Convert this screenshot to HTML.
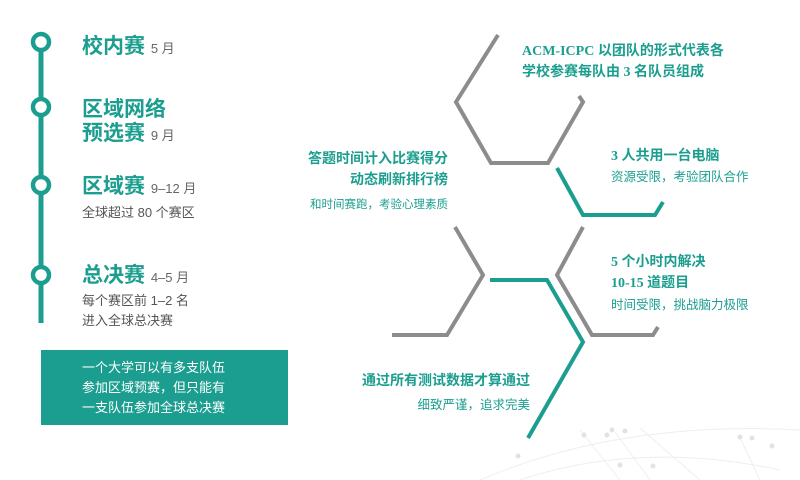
<!DOCTYPE html>
<html><head><meta charset="utf-8">
<style>
html,body{margin:0;padding:0;background:#fff;}
#wrap{position:relative;width:800px;height:480px;overflow:hidden;font-family:"Liberation Sans","Noto Sans CJK SC",sans-serif;}
.t{position:absolute;white-space:nowrap;}
.h{color:#1b9e8f;font-weight:bold;font-size:21px;line-height:24px;}
.m{color:#666;font-size:13px;font-weight:normal;}
.g{color:#555;font-size:13px;line-height:20px;}
.tb{color:#1b9e8f;font-weight:bold;font-size:14px;line-height:21px;font-family:"Liberation Serif","Noto Sans CJK SC",serif;}
.tn{color:#1b9e8f;font-size:12.5px;line-height:18px;}
.r{text-align:right;}
</style></head>
<body>
<div id="wrap">
<svg width="800" height="480" style="position:absolute;left:0;top:0">
  <g stroke="#eee" stroke-width="1" fill="none">
    <path d="M480 480 Q620 420 800 430"/>
    <path d="M520 480 Q640 440 780 470"/>
    <path d="M580 430 L620 480 M615 432 L650 480 M640 428 L700 480 M740 438 L760 480"/>
  </g>
  <g fill="#e2e2e2">
    <circle cx="584" cy="435" r="2.5"/><circle cx="607" cy="435" r="2.5"/><circle cx="612" cy="430" r="2.5"/>
    <circle cx="625" cy="431" r="2.5"/><circle cx="740" cy="437" r="2.5"/><circle cx="752" cy="438" r="2.5"/>
    <circle cx="772" cy="446" r="2.5"/><circle cx="518" cy="456" r="2.5"/><circle cx="620" cy="465" r="2.5"/>
    <circle cx="653" cy="466" r="2.5"/>
  </g>
  <g>
    <line x1="41" y1="33" x2="41" y2="323" stroke="#1b9e8f" stroke-width="5"/>
    <circle cx="41" cy="42" r="8" fill="#fff" stroke="#1b9e8f" stroke-width="4.5"/>
    <circle cx="41" cy="107" r="8" fill="#fff" stroke="#1b9e8f" stroke-width="4.5"/>
    <circle cx="41" cy="185" r="8" fill="#fff" stroke="#1b9e8f" stroke-width="4.5"/>
    <circle cx="41" cy="275" r="8" fill="#fff" stroke="#1b9e8f" stroke-width="4.5"/>
  </g>
  <rect x="41" y="350" width="247" height="75" fill="#1b9e8f"/>
  <g fill="none" stroke-width="4" stroke-linejoin="miter" stroke-linecap="butt">
    <polyline stroke="#8c8c8c" points="498,35 456,102 491,163 548,163 583,102 579,96"/>
    <polyline stroke="#1b9e8f" points="557,168 583,215 655,215 663,202"/>
    <polyline stroke="#8c8c8c" points="455,227 483,275 447,335 392,335"/>
    <polyline stroke="#8c8c8c" points="583,227 557,275 592,335 653,335 658,327"/>
    <polyline stroke="#1b9e8f" points="490,280 547,280 583,342 528,438"/>
  </g>
</svg>

<div class="t h" style="left:82px;top:35px">校内赛 <span class="m">5 月</span></div>
<div class="t h" style="left:82px;top:98px">区域网络<br>预选赛 <span class="m">9 月</span></div>
<div class="t h" style="left:82px;top:175px">区域赛 <span class="m">9–12 月</span></div>
<div class="t g" style="left:82px;top:203px">全球超过 80 个赛区</div>
<div class="t h" style="left:82px;top:264px">总决赛 <span class="m">4–5 月</span></div>
<div class="t g" style="left:82px;top:291px">每个赛区前 1–2 名<br>进入全球总决赛</div>
<div class="t" style="left:82px;top:358px;color:#fff;font-size:13px;line-height:20px">一个大学可以有多支队伍<br>参加区域预赛，但只能有<br>一支队伍参加全球总决赛</div>

<div class="t tb" style="left:522px;top:41px">ACM-ICPC 以团队的形式代表各<br>学校参赛每队由 3 名队员组成</div>
<div class="t tb" style="left:611px;top:146px">3 人共用一台电脑</div>
<div class="t tn" style="left:611px;top:168px">资源受限，考验团队合作</div>
<div class="t tb r" style="right:352px;top:149px">答题时间计入比赛得分<br>动态刷新排行榜</div>
<div class="t tn r" style="right:352px;top:196px;font-size:11.5px">和时间赛跑，考验心理素质</div>
<div class="t tb" style="left:611px;top:252px">5 个小时内解决<br>10-15 道题目</div>
<div class="t tn" style="left:611px;top:296px">时间受限，挑战脑力极限</div>
<div class="t tb r" style="right:270px;top:371px">通过所有测试数据才算通过</div>
<div class="t tn r" style="right:270px;top:396px">细致严谨，追求完美</div>
</div>
</body></html>
